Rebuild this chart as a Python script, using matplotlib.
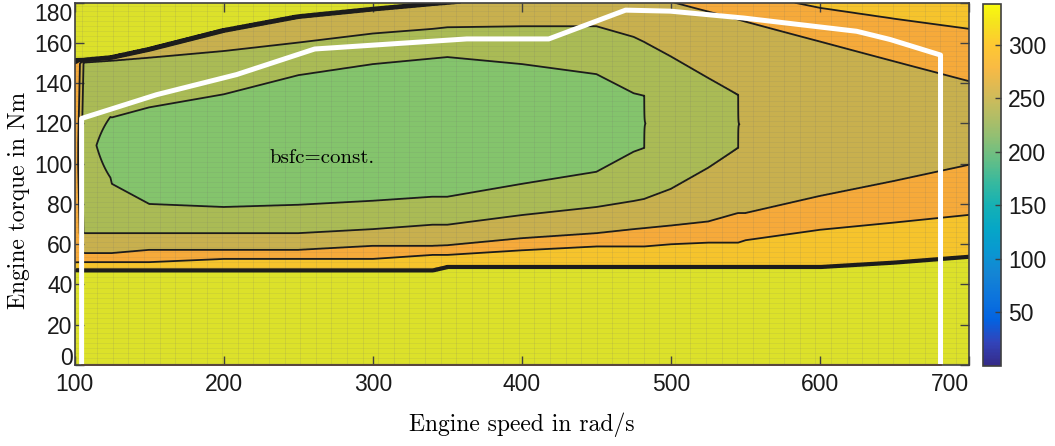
import numpy as np
import matplotlib.pyplot as plt
from matplotlib.colors import LinearSegmentedColormap, Normalize
from matplotlib.cm import ScalarMappable

plt.rcParams['font.family'] = ['Liberation Sans Narrow', 'Liberation Sans', 'DejaVu Sans']

# parula (sampled every 4th entry of the 64-colour table)
parula_pts = [
    (0.2081, 0.1663, 0.5292), (0.1959, 0.2645, 0.7279), (0.0117, 0.3875, 0.8820),
    (0.0498, 0.4586, 0.8641), (0.0793, 0.5200, 0.8312), (0.0343, 0.5966, 0.8199),
    (0.0228, 0.6535, 0.7768), (0.0843, 0.6928, 0.7062), (0.2178, 0.7250, 0.6193),
    (0.3953, 0.7459, 0.5244), (0.5709, 0.7485, 0.4494), (0.7184, 0.7411, 0.3905),
    (0.8507, 0.7299, 0.3360), (0.9739, 0.7314, 0.2666), (0.9955, 0.7861, 0.1967),
    (0.9589, 0.8949, 0.1132), (0.9763, 0.9831, 0.0538)]
pos = [i * 4 / 63 for i in range(16)] + [1.0]
parula = LinearSegmentedColormap.from_list('parula', list(zip(pos, parula_pts)))

nan = np.nan
# engine speed columns of the map (rad/s)
speed_cols = [100, 106, 125, 150, 200, 250, 300, 340, 350, 400,
              450, 475, 482, 500, 525, 545, 550, 600, 650, 700]

# torque (Nm) where the bsfc iso-lines cross each speed column, lower branch
t_325_lo = [47.5, 47, 47, 47, 47, 47, 47, 47, 48.7, 48.7,
            48.7, 48.7, 48.7, 48.7, 48.7, 48.7, 48.7, 48.7, 50.9, 53.8]
t_300_lo = [51, 51.1, 51.1, 51.1, 52.7, 52.7, 52.7, 54.7, 54.7, 57,
            58.9, 58.9, 58.9, 60, 60.8, 60.8, 62, 67.2, 70.8, 74.6]
t_270_lo = [nan, 55.6, 55.6, 57.2, 57.2, 57.2, 59.2, 59.2, 59.5, 63,
            65.5, 67.5, 68, 69.3, 71.3, 75.5, 75.5, 84, 91.5, 99.5]
t_250_lo = [nan, 65.5, 65.5, 65.5, 65.5, 65.5, 67.5, 69.7, 69.7, 74.5,
            78.5, 81.5, 82.5, 87.5, 98, 107.8, nan, nan, nan, nan]
t_230_lo = [nan, nan, 90, 80, 78.5, 79.6, 81.6, 83.6, 83.6, 90,
            96, 106, 107.8, nan, nan, nan, nan, nan, nan, nan]
# best point of each column
t_min = [100, 110, 108, 105, 106, 110, 113, 116, 117, 120,
         120, 120, 120, 120, 120, 120, 118, 120, 120, 120]
z_min = [288, 240, 218, 212, 208, 208, 208, 208, 208, 208,
         212, 222, 229.5, 240, 243, 249.8, 251, 255, 258, 260]
# upper branch (values above 180 Nm lie outside the map)
t_230_hi = [nan, nan, 123, 128, 134.5, 144, 149.5, 152.3, 153, 149.5,
            144.5, 135, 133.8, nan, nan, nan, nan, nan, nan, nan]
t_250_hi = [nan, 150.3, 151.2, 152.7, 156, 160.2, 164.7, 167, 167.8, 168.3,
            168.3, 163, 160.5, 153.3, 142.6, 134.3, nan, nan, nan, nan]
t_270_hi = [nan, 150.8, 152.1, 156.1, 165.5, 172.4, 176.1, 178.8, 179.4, 183,
            185, 183, 182.5, 180.5, 175.6, 171.7, 170.6, 160.7, 150.8, 141]
t_300_hi = [149.8, 151.2, 152.5, 156.5, 165.9, 172.8, 176.5, 179.2, 179.8, 183.4,
            186, 187, 187.2, 188, 187, 185.5, 185, 177.4, 172, 167]
t_325_hi = [150.4, 151.6, 152.9, 156.9, 166.3, 173.2, 176.9, 179.6, 180.2, 183.8,
            187.5, 189, nan, nan, nan, nan, nan, nan, nan, nan]
z_floor = 338
z_top = [338, 338, 338, 338, 338, 338, 338, 338, 338, 338,
         338, 338, 320, 305, 305, 306, 306, 310, 311, 312]

# full load curve
wot_speed = [104.7, 104.7, 155, 208.7, 261, 363, 418, 469.5, 499.5, 548.5, 624.5, 647, 680.7, 680.7]
wot_torque = [0, 122.5, 134.3, 144.3, 157, 162, 162, 176.3, 175.8, 172.4, 165.8, 161.7, 154, 0]

# build the bsfc table on a finer speed grid
cols = np.array(speed_cols, float)
speed = np.concatenate([[100.0], np.arange(106, 700.01, 1.0)])
torque = np.linspace(0, 180, 1801)


def along(vals):
    v = np.array(vals, float)
    ok = ~np.isnan(v)
    out = np.interp(speed, cols[ok], v[ok])
    out[(speed < cols[ok].min()) | (speed > cols[ok].max())] = nan
    return out


lower = [(along(t_325_lo), 325), (along(t_300_lo), 300), (along(t_270_lo), 270),
         (along(t_250_lo), 250), (along(t_230_lo), 230)]
upper = [(along(t_230_hi), 230), (along(t_250_hi), 250), (along(t_270_hi), 270),
         (along(t_300_hi), 300), (along(t_325_hi), 325)]
tm, zm, zt = along(t_min), along(z_min), along(z_top)

bsfc = np.zeros((len(torque), len(speed)))
for j in range(len(speed)):
    kt, kz = [0.0], [z_floor]
    for arr, lv in lower:
        if not np.isnan(arr[j]):
            kt.append(arr[j]); kz.append(lv)
    kt.append(tm[j]); kz.append(zm[j])
    for arr, lv in upper:
        if not np.isnan(arr[j]):
            kt.append(arr[j]); kz.append(lv)
    kt.append(190.0); kz.append(zt[j])
    bsfc[:, j] = np.interp(torque, kt, kz)

fill_levels = [200, 230, 250, 270, 300, 325, 345]
band_colors = ['#84c46c', '#aabb55', '#c8b04e', '#f6aa3a', '#f6c42c', '#dce12a']
line_levels = [230, 250, 270, 300, 325]

fig = plt.figure(figsize=(10.55, 4.46), dpi=100)
ax = fig.add_axes([74.6 / 1055, 81 / 446, 894.7 / 1055, 362.3 / 446])
cax = fig.add_axes([982.7 / 1055, 80 / 446, 18 / 1055, 362 / 446])

ax.contourf(speed, torque, bsfc, levels=fill_levels, colors=band_colors, zorder=1)

# surface mesh showing through the fill
for s in np.arange(104.7, 700, 10.47):
    ax.axvline(s, color='#6e6e6e', lw=0.6, alpha=0.16, zorder=1.5)
for t in np.arange(1, 180, 2.5):
    ax.axhline(t, color='#6e6e6e', lw=0.6, alpha=0.12, zorder=1.5)

ax.contour(speed, torque, bsfc, levels=line_levels, colors='#1c1c1c',
           linewidths=[1.3, 1.3, 1.3, 1.3, 3.0], zorder=2)

ax.plot(wot_speed, wot_torque, color='white', lw=3.6, zorder=3)
ax.plot([wot_speed[0], wot_speed[-1]], [0, 0], color='#D95319', lw=1.2, zorder=3, clip_on=False)

ax.text(266, 103, 'bsfc=const.', family='cmr10', fontsize=15, ha='center', va='center', zorder=4)

ax.set_xlim(100, 700)
ax.set_ylim(0, 180)
ax.set_xticks(range(100, 701, 100))
ax.set_yticks(range(0, 181, 20))
ax.tick_params(direction='in', length=6.5, width=1.0, color='#404040', labelsize=16.5,
               top=True, right=True, labelcolor='#1a1a1a')
ax.tick_params(axis='x', pad=6)
ax.tick_params(axis='y', pad=1.5)
for sp in ax.spines.values():
    sp.set_color('#404040')
    sp.set_linewidth(1.2)
    sp.set_zorder(5)
ax.xaxis.get_major_ticks()[-1].label1.set_horizontalalignment('right')
ax.yaxis.get_major_ticks()[-1].label1.set_verticalalignment('top')
ax.yaxis.get_major_ticks()[0].label1.set_verticalalignment('baseline')

cb = fig.colorbar(ScalarMappable(norm=Normalize(0, 338), cmap=parula), cax=cax,
                  ticks=[50, 100, 150, 200, 250, 300])
cax.tick_params(direction='in', length=4, width=1.0, color='#404040', labelsize=16.5,
                pad=5.5, labelcolor='#1a1a1a')
cb.outline.set_edgecolor('#404040')
cb.outline.set_linewidth(1.2)

fig.text(522 / 1055, 15 / 446, 'Engine speed in rad/s', family='cmr10', fontsize=17,
         ha='center', va='baseline')
fig.text(19 / 1055, 246 / 446, 'Engine torque in Nm', family='cmr10', fontsize=17,
         rotation=90, ha='center', va='center')

fig.savefig('out.png', dpi=100)
